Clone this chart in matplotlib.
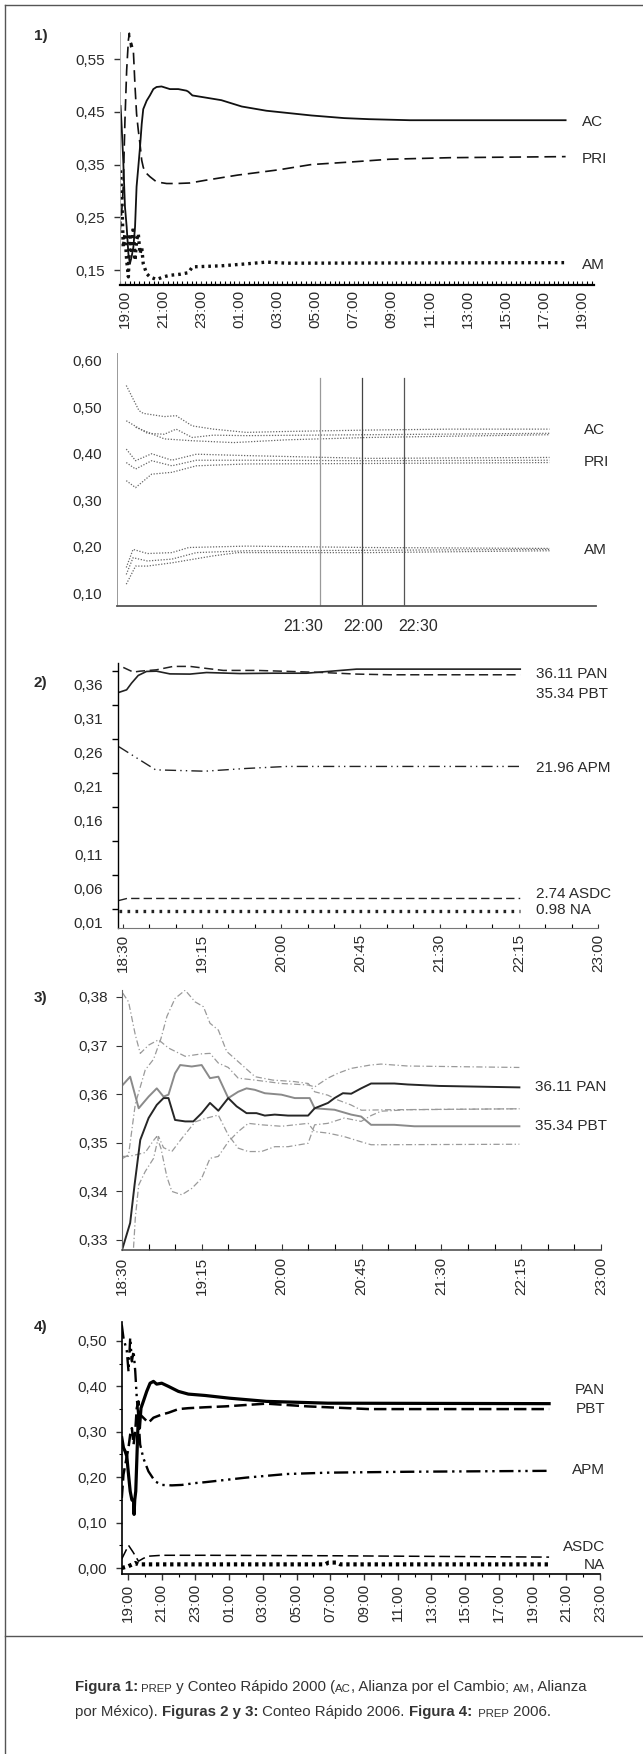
import matplotlib
matplotlib.use("Agg")
import matplotlib.pyplot as plt
from matplotlib import font_manager
from matplotlib.lines import Line2D
from matplotlib.ticker import FixedLocator, MultipleLocator

plt.rcParams["font.family"] = ["Liberation Sans", "DejaVu Sans"]

# ---------------- datos ----------------
# Figura 1 (arriba): PREP 2000, horas desde las 19:00
ac_t = [-0.23, -0.17, -0.09, 0.0, 0.09, 0.18, 0.26, 0.35, 0.44, 0.53, 0.61, 0.70, 0.79, 0.88,
        0.96, 1.14, 1.31, 1.49, 1.66, 1.92, 2.36, 2.80, 3.23, 3.33, 3.54, 5.06, 6.13, 7.42,
        9.79, 11.51, 12.8, 14.95, 23.13]
ac_v = [0.461, 0.42, 0.358, 0.27, 0.232, 0.181, 0.162, 0.175, 0.193, 0.232, 0.308, 0.345, 0.383,
        0.427, 0.455, 0.471, 0.481, 0.493, 0.497, 0.498, 0.493, 0.493, 0.49, 0.488, 0.481, 0.472,
        0.46, 0.452, 0.443, 0.438, 0.436, 0.434, 0.434]
pri_t = [-0.26, -0.17, -0.09, 0.0, 0.09, 0.18, 0.23, 0.30, 0.35, 0.44, 0.53, 0.61, 0.70, 0.79,
         0.88, 0.96, 1.05, 1.31, 1.66, 2.19, 2.71, 3.41, 4.2, 5.92, 8.07, 9.79, 11.94, 13.87,
         17.1, 23.13]
pri_v = [0.22, 0.26, 0.308, 0.434, 0.529, 0.586, 0.599, 0.573, 0.58, 0.567, 0.497, 0.446, 0.415,
         0.389, 0.358, 0.345, 0.336, 0.327, 0.317, 0.314, 0.314, 0.315, 0.32, 0.33, 0.34, 0.35,
         0.355, 0.36, 0.363, 0.365]
am_t = [-0.23, -0.17, -0.12, -0.09, 0.0, 0.09, 0.18, 0.26, 0.35, 0.44, 0.53, 0.61, 0.70, 0.79,
        0.88, 0.96, 1.14, 1.31, 1.66, 2.01, 2.36, 2.89, 3.33, 3.54, 5.06, 6.13, 7.42, 8.5, 23.13]
am_v = [0.339, 0.295, 0.232, 0.193, 0.219, 0.168, 0.137, 0.219, 0.181, 0.232, 0.168, 0.206, 0.219,
        0.181, 0.193, 0.162, 0.143, 0.137, 0.132, 0.137, 0.14, 0.142, 0.145, 0.156, 0.158, 0.161,
        0.165, 0.163, 0.164]
p1_ticks = ["19:00", "21:00", "23:00", "01:00", "03:00", "05:00", "07:00", "09:00", "11:00",
            "13:00", "15:00", "17:00", "19:00"]

# Figura 1 (abajo): Conteo Rapido 2000, bandas (hora del dia)
acb_t = [[19.21, 19.36, 19.41, 19.66, 19.80, 19.99, 20.24, 20.63, 21.11, 22.08, 23.05, 24.22],
         [19.21, 19.46, 19.66, 19.80, 19.99, 20.24, 20.63, 22.08, 24.22],
         [19.32, 19.66, 19.99, 20.48, 21.11, 22.08, 24.22]]
acb_v = [[0.547, 0.493, 0.487, 0.48, 0.482, 0.46, 0.453, 0.446, 0.448, 0.451, 0.453, 0.453],
         [0.471, 0.444, 0.442, 0.453, 0.435, 0.44, 0.439, 0.441, 0.444],
         [0.457, 0.432, 0.428, 0.424, 0.43, 0.435, 0.441]]
prib_t = [[19.21, 19.32, 19.51, 19.75, 20.04, 20.63, 22.08, 24.22]] * 3
prib_v = [[0.41, 0.385, 0.40, 0.386, 0.399, 0.396, 0.39, 0.392],
          [0.381, 0.367, 0.385, 0.374, 0.386, 0.386, 0.385, 0.386],
          [0.342, 0.327, 0.356, 0.36, 0.374, 0.378, 0.379, 0.381]]
amb_t = [[19.21, 19.29, 19.46, 19.75, 19.95, 20.63, 22.08, 24.22],
         [19.21, 19.29, 19.46, 19.75, 20.04, 20.63, 22.08, 24.22],
         [19.21, 19.32, 19.46, 19.75, 20.24, 20.53, 22.08, 24.22]]
amb_v = [[0.155, 0.194, 0.185, 0.187, 0.198, 0.201, 0.198, 0.196],
         [0.14, 0.176, 0.169, 0.173, 0.187, 0.191, 0.192, 0.194],
         [0.119, 0.158, 0.158, 0.165, 0.18, 0.187, 0.187, 0.191]]
cortes = [21.5, 22.0, 22.5]
cortes_lbl = ["21:30", "22:00", "22:30"]
cortes_lbl_x = [21.30, 22.01, 22.67]

# Figura 2: Conteo Rapido 2006, minutos desde las 18:30
pan2_t = [-2.1, 2.1, 4.9, 8.7, 13.4, 19.1, 26.7, 38.1, 47.5, 66.5, 85.4, 104.4, 113.8, 132.8, 225.8]
pan2_v = [0.349, 0.3526, 0.3624, 0.3737, 0.3796, 0.38, 0.376, 0.3757, 0.378, 0.3765, 0.377,
          0.377, 0.379, 0.383, 0.383]
pbt2_t = [0.2, 5.9, 9.7, 19.1, 28.6, 38.1, 47.5, 57, 76, 94.9, 113.8, 132.8, 151.7, 225.8]
pbt2_v = [0.3855, 0.3786, 0.38, 0.382, 0.387, 0.387, 0.384, 0.3811, 0.3811, 0.3796, 0.378,
          0.3757, 0.3747, 0.3747]
apm2_t = [-2.3, 6.9, 18.6, 46.5, 69.8, 93.1, 225.8]
apm2_v = [0.269, 0.254, 0.235, 0.233, 0.237, 0.24, 0.24]
asdc2_t = [-2.3, 2.3, 225.8]
asdc2_v = [0.043, 0.046, 0.046]
na2_t = [-2.3, 225.8]
na2_v = [0.028, 0.028]
p23_ticks = ["18:30", "19:15", "20:00", "20:45", "21:30", "22:15", "23:00"]

# Figura 3: PAN y PBT con sus intervalos
pan3_t = [0.4, 4.6, 7.1, 10.3, 15, 19.6, 23.4, 26.2, 29.9, 35.6, 40.2, 44.9, 49.6, 54.3, 59.9,
          64.6, 70.2, 75.8, 80.5, 86.1, 93.6, 104.9, 108.6, 116.1, 119.8, 124.5, 129.2, 134.8,
          140.4, 153.5, 161, 178.8, 224]
pan3_v = [0.3284, 0.3335, 0.3414, 0.3506, 0.3551, 0.3578, 0.3592, 0.3592, 0.3547, 0.3544, 0.3544,
          0.3561, 0.3582, 0.3566, 0.3592, 0.3575, 0.3561, 0.3561, 0.3556, 0.3558, 0.3556, 0.3556,
          0.3571, 0.3582, 0.3592, 0.3602, 0.3601, 0.3612, 0.3622, 0.3622, 0.3620, 0.3617, 0.3614]
pbt3_t = [0.4, 4.6, 9.4, 15, 19.6, 23.4, 26.2, 29.9, 32.8, 39.3, 44.9, 49.6, 54.3, 59.9, 65.5,
          70.2, 74.9, 80.5, 89.9, 97.4, 105.8, 108.6, 119.8, 129.2, 134.8, 140.4, 153.5, 164.8,
          178.8, 224]
pbt3_v = [0.3619, 0.3636, 0.3571, 0.3595, 0.3612, 0.3595, 0.3599, 0.3643, 0.366, 0.3657, 0.366,
          0.3633, 0.3636, 0.3592, 0.3605, 0.3612, 0.3609, 0.3602, 0.3599, 0.3592, 0.3592, 0.3571,
          0.3568, 0.3558, 0.3554, 0.3537, 0.3537, 0.3534, 0.3534, 0.3534]
ic3_t = [[0.4, 3.7, 7.5, 10.3, 15, 20.6, 26.2, 35.6, 44.9, 49.6, 54.3, 59.9, 65.5, 75, 89.9, 105,
          108.6, 116, 121.7, 129, 140, 146, 161, 224],
         [0.4, 3.7, 7.5, 13.1, 17.8, 22, 25.3, 29.9, 35.6, 41.2, 45.9, 49.6, 54.3, 59, 65.5, 75,
          85, 97, 105, 108.6, 116, 121.7, 129, 135, 150, 224],
         [0.4, 3.7, 7.5, 13.1, 17.8, 19.6, 22, 25.3, 28.1, 33.7, 39.3, 44.9, 49.6, 54.3, 59.9,
          65.5, 71.2, 78.6, 89.9, 104.9, 108.6, 116, 125, 134.8, 140.4, 146, 224],
         [6.5, 7.5, 9.4, 13.1, 17.8, 20.6, 23.4, 28.1, 33.7, 41.2, 46.8, 54.3, 59.9, 65.5, 71.2,
          78.6, 86.1, 93.6, 104.9, 108.6, 116, 125.4, 134.8, 140.4, 146, 161, 224]]
ic3_v = [[0.3808, 0.379, 0.3722, 0.3684, 0.3701, 0.3712, 0.3695, 0.3678, 0.3683, 0.3684, 0.3664,
          0.3655, 0.3633, 0.3629, 0.3622, 0.3619, 0.3615, 0.3633, 0.3643, 0.3653, 0.366, 0.3662,
          0.3658, 0.3655],
         [0.3468, 0.3475, 0.358, 0.365, 0.3672, 0.3715, 0.376, 0.3797, 0.3814, 0.379, 0.378,
          0.3746, 0.3732, 0.3688, 0.3667, 0.3636, 0.3629, 0.3626, 0.3622, 0.3605, 0.3598, 0.3588,
          0.3578, 0.3567, 0.3568, 0.357],
         [0.3472, 0.3472, 0.3475, 0.348, 0.3505, 0.3513, 0.3488, 0.343, 0.34, 0.3393, 0.3406,
          0.3427, 0.3468, 0.3472, 0.3502, 0.3523, 0.354, 0.3537, 0.3534, 0.354, 0.3523, 0.352,
          0.3513, 0.3502, 0.3496, 0.3496, 0.3497],
         [0.3284, 0.3345, 0.3413, 0.3441, 0.3468, 0.3513, 0.349, 0.3482, 0.3509, 0.3543, 0.355,
          0.3557, 0.3516, 0.3489, 0.3482, 0.3482, 0.3492, 0.3492, 0.3499, 0.3537, 0.354, 0.3551,
          0.3544, 0.3556, 0.3565, 0.3568, 0.357]]

# Figura 4: PREP 2006, horas desde las 19:00
pan4_t = [-0.37, -0.27, -0.17, -0.07, 0.03, 0.13, 0.23, 0.33, 0.36, 0.40, 0.46, 0.52, 0.58,
          0.62, 0.68, 0.77, 0.91, 1.11, 1.31, 1.51, 1.70, 2.0, 2.4, 2.99, 3.58, 4.57, 6.02, 8.21,
          11.86, 24.98]
pan4_v = [0.287, 0.265, 0.257, 0.246, 0.206, 0.169, 0.15, 0.147, 0.118, 0.15, 0.169, 0.235,
          0.301, 0.338, 0.308, 0.352, 0.367, 0.389, 0.407, 0.411, 0.405, 0.407, 0.4, 0.389, 0.383,
          0.38, 0.374, 0.367, 0.363, 0.362]
pbt4_t = [-0.37, -0.27, 0.03, 0.13, 0.23, 0.33, 0.43, 0.52, 0.62, 0.72, 0.91, 1.21, 1.51, 2.0,
          2.4, 2.99, 3.58, 4.57, 5.78, 8.21, 10.64, 14.29, 24.98]
pbt4_v = [0.154, 0.206, 0.265, 0.294, 0.308, 0.272, 0.301, 0.352, 0.367, 0.338, 0.331, 0.32,
          0.331, 0.338, 0.342, 0.35, 0.352, 0.354, 0.356, 0.362, 0.356, 0.35, 0.35]
apm4_t = [-0.37, -0.27, -0.07, 0.03, 0.13, 0.23, 0.33, 0.43, 0.52, 0.62, 0.72, 0.91, 1.21, 1.6,
          2.0, 2.6, 3.2, 3.97, 4.57, 6.99, 9.42, 11.86, 16.71, 24.98]
apm4_v = [0.536, 0.507, 0.478, 0.433, 0.507, 0.455, 0.478, 0.433, 0.375, 0.331, 0.272, 0.242,
          0.213, 0.191, 0.183, 0.182, 0.183, 0.187, 0.189, 0.199, 0.207, 0.21, 0.212, 0.214]
asdc4_t = [-0.37, 0.03, 0.3, 0.62, 0.9, 1.2, 2.0, 4.6, 12.0, 24.98]
asdc4_v = [0.02, 0.05, 0.035, 0.015, 0.021, 0.026, 0.028, 0.028, 0.027, 0.024]
na4_t = [-0.37, 0.03, 0.43, 0.62, 1.0, 11.7, 11.9, 12.4, 12.6, 24.98]
na4_v = [0.0, 0.004, 0.011, 0.008, 0.008, 0.008, 0.012, 0.012, 0.008, 0.008]
p4_ticks = ["19:00", "21:00", "23:00", "01:00", "03:00", "05:00", "07:00", "09:00", "11:00",
            "13:00", "15:00", "17:00", "19:00", "21:00", "23:00"]

# ---------------- figura ----------------
W, H = 643, 1754
fig = plt.figure(figsize=(W / 100, H / 100), dpi=100)
TXT = "#2a2a2a"


def place(l, t, r, b):
    ax = fig.add_axes([l / W, 1 - b / H, (r - l) / W, (b - t) / H])
    ax.patch.set_alpha(0)
    for s in ("top", "right"):
        ax.spines[s].set_visible(False)
    ax.tick_params(labelsize=11, labelcolor=TXT, color="#333")
    return ax


def yfmt(ax, vals):
    ax.yaxis.set_major_locator(FixedLocator(vals))
    ax.set_yticklabels([f"{v:.2f}".replace(".", ",") for v in vals])


def rlabel(ax, x, y, s, ha="left"):
    ax.text(x, y, s, fontsize=11, color=TXT, ha=ha, va="center", clip_on=False)


# --- 1) arriba
ax = place(120, 31.6, 594, 284.8)
ax.set_xlim(-0.26, 24.62)
ax.set_ylim(0.122, 0.602)
ax.plot(ac_t, ac_v, color="#111", lw=1.3)
ax.plot(pri_t, pri_v, color="#111", lw=1.2, ls=(0, (7, 3.5)))
ax.plot(am_t, am_v, color="#111", lw=2.4, ls=(0, (0.8, 1.2)))
yfmt(ax, [0.15, 0.25, 0.35, 0.45, 0.55])
ax.set_xticks(range(0, 25, 2))
ax.set_xticklabels(p1_ticks, rotation=90)
ax.xaxis.set_minor_locator(MultipleLocator(0.25))
ax.tick_params(axis="y", length=4, width=1, pad=7)
ax.tick_params(axis="x", which="both", direction="in", length=3, width=0.8, pad=4)
ax.spines["left"].set_color("#aaa")
ax.spines["left"].set_linewidth(0.6)
ax.spines["bottom"].set_linewidth(1.6)
for s, v in zip(["AC", "PRI", "AM"], [ac_v[-1], pri_v[-1], am_v[-1]]):
    rlabel(ax, 24.0, v - 0.004, s)
fig.text(34 / W, 1 - 36 / H, "1)", fontsize=11, fontweight="bold", color=TXT, va="center")

# --- 1) abajo
ax = place(117, 353, 596, 606)
ax.set_xlim(19.10, 24.77)
ax.set_ylim(0.072, 0.617)
for tt, vv in zip(acb_t + prib_t + amb_t, acb_v + prib_v + amb_v):
    ax.plot(tt, vv, color="#666", lw=0.9, ls=(0, (1, 1.3)))
for c, col in zip(cortes, ["#999", "#444", "#555"]):
    ax.axvline(c, ymax=0.90, color=col, lw=0.9)
yfmt(ax, [0.10, 0.20, 0.30, 0.40, 0.50, 0.60])
ax.set_xticks([])
ax.tick_params(axis="y", length=0, pad=11)
ax.spines["left"].set_color("#999")
ax.spines["left"].set_linewidth(0.7)
ax.spines["bottom"].set_color("#555")
ax.spines["bottom"].set_linewidth(1.3)
for s, v in zip(cortes_lbl, cortes_lbl_x):
    ax.text(v, -0.08, s, transform=ax.get_xaxis_transform(), fontsize=11.5, color=TXT,
            ha="center", va="center")
for s, v in zip(["AC", "PRI", "AM"], [0.451, 0.382, 0.192]):
    rlabel(ax, 24.63, v, s)

# --- 2)
ax = place(118, 663, 598, 928)
ax.set_xlim(-2.8, 269.9)
ax.set_ylim(0.0026, 0.392)
ax.plot(pan2_t, pan2_v, color="#222", lw=1.2)
ax.plot(pbt2_t, pbt2_v, color="#222", lw=1.1, ls=(0, (6, 3)))
ax.plot(apm2_t, apm2_v, color="#222", lw=1.0, ls=(0, (8, 3, 1, 3, 1, 3)))
ax.plot(asdc2_t, asdc2_v, color="#222", lw=1.0, ls=(0, (6, 3)))
ax.plot(na2_t, na2_v, color="#222", lw=2.4, ls=(0, (0.8, 1.6)))
yfmt(ax, [0.01, 0.06, 0.11, 0.16, 0.21, 0.26, 0.31, 0.36])
ax.yaxis.set_minor_locator(FixedLocator([0.03, 0.08, 0.13, 0.18, 0.23, 0.28, 0.33, 0.38]))
ax.tick_params(axis="y", which="major", length=0, pad=11)
ax.tick_params(axis="y", which="minor", length=4, width=1)
ax.set_xticks(range(0, 271, 45))
ax.set_xticklabels(p23_ticks, rotation=90)
ax.xaxis.set_minor_locator(MultipleLocator(15))
ax.tick_params(axis="x", which="both", direction="in", length=3, width=0.8, pad=4)
ax.spines["left"].set_linewidth(1.0)
ax.spines["bottom"].set_color("#777")
ax.spines["bottom"].set_linewidth(0.8)
for s, v in zip(["36.11 PAN", "35.34 PBT", "21.96 APM", "2.74 ASDC", "0.98 NA"],
                [0.376, 0.347, 0.238, 0.053, 0.0285]):
    rlabel(ax, 235, v, s)
fig.text(34 / W, 1 - 683 / H, "2)", fontsize=11, fontweight="bold", color=TXT, va="center")

# --- 3)
ax = place(122, 990, 601, 1250)
ax.set_xlim(0, 269)
ax.set_ylim(0.32794, 0.38144)
for tt, vv in zip(ic3_t, ic3_v):
    ax.plot(tt, vv, color="#9a9a9a", lw=0.9, ls=(0, (5, 2, 1, 2)))
ax.plot(pbt3_t, pbt3_v, color="#8a8a8a", lw=1.4)
ax.plot(pan3_t, pan3_v, color="#262626", lw=1.4)
yfmt(ax, [0.33, 0.34, 0.35, 0.36, 0.37, 0.38])
ax.tick_params(axis="y", length=4, width=0.8, pad=6)
ax.set_xticks(range(0, 271, 45))
ax.set_xticklabels(p23_ticks, rotation=90)
ax.xaxis.set_minor_locator(MultipleLocator(15))
ax.tick_params(axis="x", which="both", direction="in", length=4, width=0.8, pad=5)
ax.spines["left"].set_color("#666")
ax.spines["bottom"].set_color("#444")
ax.spines["bottom"].set_linewidth(1.1)
for s, v in zip(["36.11 PAN", "35.34 PBT"], [0.3615, 0.3535]):
    rlabel(ax, 233, v, s)
fig.text(34 / W, 1 - 998 / H, "3)", fontsize=11, fontweight="bold", color=TXT, va="center")

# --- 4)
ax = place(122, 1322, 600, 1574)
ax.set_xlim(-0.356, 28.0)
ax.set_ylim(-0.0132, 0.5418)
ax.plot(pan4_t, pan4_v, color="#000", lw=2.3)
ax.plot(pbt4_t, pbt4_v, color="#000", lw=1.8, ls=(0, (5, 2)))
ax.plot(apm4_t, apm4_v, color="#000", lw=1.7, ls=(0, (6, 2, 1, 2, 1, 2)))
ax.plot(asdc4_t, asdc4_v, color="#000", lw=1.1, ls=(0, (7, 3)))
ax.plot(na4_t, na4_v, color="#000", lw=3.0, ls=(0, (0.8, 0.9)))
yfmt(ax, [0.0, 0.1, 0.2, 0.3, 0.4, 0.5])
ax.yaxis.set_minor_locator(MultipleLocator(0.05))
ax.tick_params(axis="y", which="major", length=4, width=1, pad=7)
ax.tick_params(axis="y", which="minor", length=2, width=0.8)
ax.set_xticks(range(0, 29, 2))
ax.set_xticklabels(p4_ticks, rotation=90)
ax.xaxis.set_minor_locator(MultipleLocator(1))
ax.tick_params(axis="x", which="major", length=4, width=1, pad=3)
ax.tick_params(axis="x", which="minor", length=2, width=0.8)
ax.spines["left"].set_linewidth(1.2)
ax.spines["bottom"].set_linewidth(1.2)
for s, v in zip(["PAN", "PBT", "APM", "ASDC", "NA"], [0.392, 0.35, 0.216, 0.046, 0.007]):
    rlabel(ax, 28.3, v, s, ha="right")
fig.text(34 / W, 1 - 1327 / H, "4)", fontsize=11, fontweight="bold", color=TXT, va="center")

# ---------------- marco y pie ----------------
for xs, ys in [([5, W], [5, 5]), ([5, 5], [5, H]), ([5, W], [1636, 1636])]:
    fig.add_artist(Line2D([x / W for x in xs], [1 - y / H for y in ys], color="#555", lw=1.0))

# fuente condensada para el pie si existe
nombres = {f.name for f in font_manager.fontManager.ttflist}
if "Liberation Sans Narrow" in nombres:
    cap_fam, big, small = ["Liberation Sans Narrow", "Liberation Sans"], 12.5, 9.5
else:
    cap_fam, big, small = ["Liberation Sans", "DejaVu Sans"], 10.8, 8.2

cap_lines = [
    [("Figura 1:", "bold", big), (" PREP", "normal", small), (" y Conteo Rápido 2000 (", "normal", big),
     ("AC", "normal", small), (", Alianza por el Cambio; ", "normal", big), ("AM", "normal", small),
     (", Alianza", "normal", big)],
    [("por México). ", "normal", big), ("Figuras 2 y 3:", "bold", big),
     (" Conteo Rápido 2006. ", "normal", big), ("Figura 4:", "bold", big),
     ("  PREP", "normal", small), (" 2006.", "normal", big)],
]
for base_y, parts in zip([1691, 1716], cap_lines):
    prev = None
    for s, w, sz in parts:
        if prev is None:
            prev = fig.text(75 / W, 1 - base_y / H, s, fontsize=sz, fontweight=w, color="#333",
                            va="baseline", family=cap_fam)
        else:
            prev = ax.annotate(s, xy=(1, 0), xycoords=prev, fontsize=sz, fontweight=w,
                               color="#333", va="bottom", annotation_clip=False, family=cap_fam)

fig.savefig("out.png", dpi=100)
